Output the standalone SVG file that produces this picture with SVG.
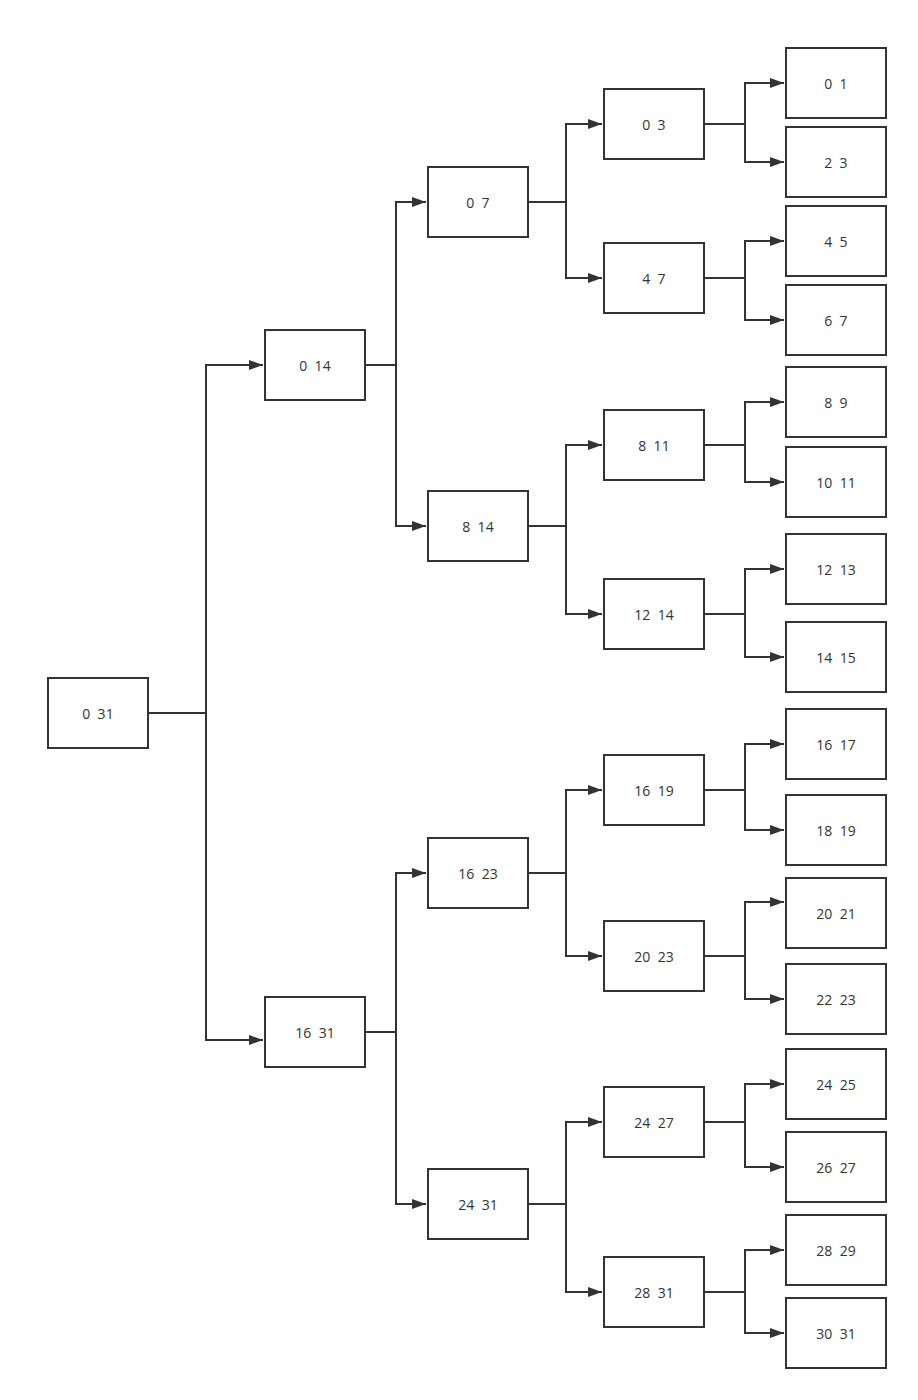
<svg xmlns="http://www.w3.org/2000/svg" width="918" height="1400" viewBox="0 0 918 1400" xml:space="preserve">
<style>
.n rect{fill:#fff;stroke:#333;stroke-width:2}
.n text{font-family:"Open Sans","Noto Sans",sans-serif;font-size:14px;fill:#333;text-anchor:middle;dominant-baseline:central;white-space:pre}
#edges path{fill:none;stroke:#333;stroke-width:2}
</style>
<defs>
<marker id="ah" viewBox="0 0 14 10" refX="14" refY="5" markerWidth="14" markerHeight="10" markerUnits="userSpaceOnUse" orient="auto">
<path d="M0,0 L14,5 L0,10 Z" fill="#333"/>
</marker>
</defs>
<rect width="918" height="1400" fill="#fff"/>
<g id="edges">
<path d="M148,713 H206"/>
<path d="M206,713 V365 H263" marker-end="url(#ah)"/>
<path d="M206,713 V1040 H263" marker-end="url(#ah)"/>
<path d="M365,365 H396"/>
<path d="M396,365 V202 H426" marker-end="url(#ah)"/>
<path d="M396,365 V526 H426" marker-end="url(#ah)"/>
<path d="M365,1032 H396"/>
<path d="M396,1032 V873 H426" marker-end="url(#ah)"/>
<path d="M396,1032 V1204 H426" marker-end="url(#ah)"/>
<path d="M528,202 H566"/>
<path d="M566,202 V124 H602" marker-end="url(#ah)"/>
<path d="M566,202 V278 H602" marker-end="url(#ah)"/>
<path d="M528,526 H566"/>
<path d="M566,526 V445 H602" marker-end="url(#ah)"/>
<path d="M566,526 V614 H602" marker-end="url(#ah)"/>
<path d="M528,873 H566"/>
<path d="M566,873 V790 H602" marker-end="url(#ah)"/>
<path d="M566,873 V956 H602" marker-end="url(#ah)"/>
<path d="M528,1204 H566"/>
<path d="M566,1204 V1122 H602" marker-end="url(#ah)"/>
<path d="M566,1204 V1292 H602" marker-end="url(#ah)"/>
<path d="M704,124 H745"/>
<path d="M745,124 V83 H784" marker-end="url(#ah)"/>
<path d="M745,124 V162 H784" marker-end="url(#ah)"/>
<path d="M704,278 H745"/>
<path d="M745,278 V241 H784" marker-end="url(#ah)"/>
<path d="M745,278 V320 H784" marker-end="url(#ah)"/>
<path d="M704,445 H745"/>
<path d="M745,445 V402 H784" marker-end="url(#ah)"/>
<path d="M745,445 V482 H784" marker-end="url(#ah)"/>
<path d="M704,614 H745"/>
<path d="M745,614 V569 H784" marker-end="url(#ah)"/>
<path d="M745,614 V657 H784" marker-end="url(#ah)"/>
<path d="M704,790 H745"/>
<path d="M745,790 V744 H784" marker-end="url(#ah)"/>
<path d="M745,790 V830 H784" marker-end="url(#ah)"/>
<path d="M704,956 H745"/>
<path d="M745,956 V902 H784" marker-end="url(#ah)"/>
<path d="M745,956 V999 H784" marker-end="url(#ah)"/>
<path d="M704,1122 H745"/>
<path d="M745,1122 V1084 H784" marker-end="url(#ah)"/>
<path d="M745,1122 V1167 H784" marker-end="url(#ah)"/>
<path d="M704,1292 H745"/>
<path d="M745,1292 V1250 H784" marker-end="url(#ah)"/>
<path d="M745,1292 V1333 H784" marker-end="url(#ah)"/>
</g>
<g id="n0_31" class="n"><rect x="48" y="678" width="100" height="70"/><text x="98" y="713">0  31</text></g>
<g id="n0_14" class="n"><rect x="265" y="330" width="100" height="70"/><text x="315" y="365">0  14</text></g>
<g id="n16_31" class="n"><rect x="265" y="997" width="100" height="70"/><text x="315" y="1032">16  31</text></g>
<g id="n0_7" class="n"><rect x="428" y="167" width="100" height="70"/><text x="478" y="202">0  7</text></g>
<g id="n8_14" class="n"><rect x="428" y="491" width="100" height="70"/><text x="478" y="526">8  14</text></g>
<g id="n16_23" class="n"><rect x="428" y="838" width="100" height="70"/><text x="478" y="873">16  23</text></g>
<g id="n24_31" class="n"><rect x="428" y="1169" width="100" height="70"/><text x="478" y="1204">24  31</text></g>
<g id="n0_3" class="n"><rect x="604" y="89" width="100" height="70"/><text x="654" y="124">0  3</text></g>
<g id="n4_7" class="n"><rect x="604" y="243" width="100" height="70"/><text x="654" y="278">4  7</text></g>
<g id="n8_11" class="n"><rect x="604" y="410" width="100" height="70"/><text x="654" y="445">8  11</text></g>
<g id="n12_14" class="n"><rect x="604" y="579" width="100" height="70"/><text x="654" y="614">12  14</text></g>
<g id="n16_19" class="n"><rect x="604" y="755" width="100" height="70"/><text x="654" y="790">16  19</text></g>
<g id="n20_23" class="n"><rect x="604" y="921" width="100" height="70"/><text x="654" y="956">20  23</text></g>
<g id="n24_27" class="n"><rect x="604" y="1087" width="100" height="70"/><text x="654" y="1122">24  27</text></g>
<g id="n28_31" class="n"><rect x="604" y="1257" width="100" height="70"/><text x="654" y="1292">28  31</text></g>
<g id="n0_1" class="n"><rect x="786" y="48" width="100" height="70"/><text x="836" y="83">0  1</text></g>
<g id="n2_3" class="n"><rect x="786" y="127" width="100" height="70"/><text x="836" y="162">2  3</text></g>
<g id="n4_5" class="n"><rect x="786" y="206" width="100" height="70"/><text x="836" y="241">4  5</text></g>
<g id="n6_7" class="n"><rect x="786" y="285" width="100" height="70"/><text x="836" y="320">6  7</text></g>
<g id="n8_9" class="n"><rect x="786" y="367" width="100" height="70"/><text x="836" y="402">8  9</text></g>
<g id="n10_11" class="n"><rect x="786" y="447" width="100" height="70"/><text x="836" y="482">10  11</text></g>
<g id="n12_13" class="n"><rect x="786" y="534" width="100" height="70"/><text x="836" y="569">12  13</text></g>
<g id="n14_15" class="n"><rect x="786" y="622" width="100" height="70"/><text x="836" y="657">14  15</text></g>
<g id="n16_17" class="n"><rect x="786" y="709" width="100" height="70"/><text x="836" y="744">16  17</text></g>
<g id="n18_19" class="n"><rect x="786" y="795" width="100" height="70"/><text x="836" y="830">18  19</text></g>
<g id="n20_21" class="n"><rect x="786" y="878" width="100" height="70"/><text x="836" y="913">20  21</text></g>
<g id="n22_23" class="n"><rect x="786" y="964" width="100" height="70"/><text x="836" y="999">22  23</text></g>
<g id="n24_25" class="n"><rect x="786" y="1049" width="100" height="70"/><text x="836" y="1084">24  25</text></g>
<g id="n26_27" class="n"><rect x="786" y="1132" width="100" height="70"/><text x="836" y="1167">26  27</text></g>
<g id="n28_29" class="n"><rect x="786" y="1215" width="100" height="70"/><text x="836" y="1250">28  29</text></g>
<g id="n30_31" class="n"><rect x="786" y="1298" width="100" height="70"/><text x="836" y="1333">30  31</text></g>
</svg>
